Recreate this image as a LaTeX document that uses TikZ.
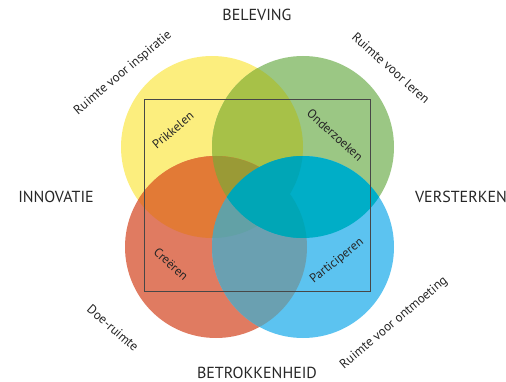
\documentclass[tikz,border=0pt]{standalone}
\usepackage{fontspec}
\setmainfont{PT Sans}
\definecolor{geel}{HTML}{FCEE7E}
\definecolor{groen}{HTML}{9BC784}
\definecolor{rood}{HTML}{E07B61}
\definecolor{blauw}{HTML}{5CC3F0}
\definecolor{geelgroen}{HTML}{A7C148}
\definecolor{oranje}{HTML}{E27A36}
\definecolor{olijf}{HTML}{9A9A36}
\definecolor{grijsblauw}{HTML}{6AA0B1}
\definecolor{lichtteal}{HTML}{00AEC7}
\definecolor{teal}{HTML}{00A6B6}
\definecolor{grijsteal}{HTML}{62A1A6}
\definecolor{tekst}{HTML}{262626}

\begin{document}
\begin{tikzpicture}[x=1pt,y=-1pt,every node/.style={text=tekst, inner sep=0pt},
    hoofd/.style={font=\fontsize{16}{18}\selectfont},
    ruimte/.style={font=\fontsize{13}{15}\selectfont},
    actie/.style={font=\fontsize{12.5}{14}\selectfont}]
        \useasboundingbox (0,0) rectangle (506,382);
        \coordinate (Y) at (212,147);
        \coordinate (G) at (303,147);
        \coordinate (R) at (216,247);
        \coordinate (B) at (303,247);
        % cirkels
        \fill [geel] (Y) circle (91pt);
        \fill [groen] (G) circle (91pt);
        \fill [rood] (R) circle (91pt);
        \fill [blauw] (B) circle (91pt);
        % overlappingen
        \begin{scope}
            \clip (Y) circle (91pt);
            \fill [geelgroen] (G) circle (91pt);
            \fill [oranje] (R) circle (91pt);
        \end{scope}
        \begin{scope}
            \clip (R) circle (91pt);
            \fill [grijsblauw] (B) circle (91pt);
        \end{scope}
        \begin{scope}
            \clip (G) circle (91pt);
            \fill [lichtteal] (B) circle (91pt);
        \end{scope}
        \begin{scope}
            \clip (Y) circle (91pt);
            \clip (R) circle (91pt);
            \fill [olijf] (G) circle (91pt);
            \fill [grijsteal] (B) circle (91pt);
        \end{scope}
        \begin{scope}
            \clip (G) circle (91pt);
            \clip (B) circle (91pt);
            \fill [teal] (Y) circle (91pt);
            \fill [teal] (R) circle (91pt);
        \end{scope}
        \draw [tekst!85, line width=1pt] (144,100) rectangle (370,291);
        % teksten
        \node [hoofd] at (257,15) (beleving) {BELEVING};
        \node [hoofd] at (56,197) (innovatie) {INNOVATIE};
        \node [hoofd] at (461,197) (versterken) {VERSTERKEN};
        \node [hoofd] at (257,373) (betrokkenheid) {BETROKKENHEID};
        \node [ruimte, rotate=40] at (123,73) (inspiratie) {Ruimte voor inspiratie};
        \node [ruimte, rotate=-42] at (391,68) (leren) {Ruimte voor leren};
        \node [ruimte, rotate=-41] at (113,328) (doe) {Doe-ruimte};
        \node [ruimte, rotate=40] at (394,323) (ontmoeting) {Ruimte voor ontmoeting};
        \node [actie, rotate=40] at (173,130) (prikkelen) {Prikkelen};
        \node [actie, rotate=-42] at (335,135) (onderzoeken) {Onderzoeken};
        \node [actie, rotate=-42] at (171,264) (creeren) {Creëren};
        \node [actie, rotate=39] at (337,261) (participeren) {Participeren};
\end{tikzpicture}
\end{document}
